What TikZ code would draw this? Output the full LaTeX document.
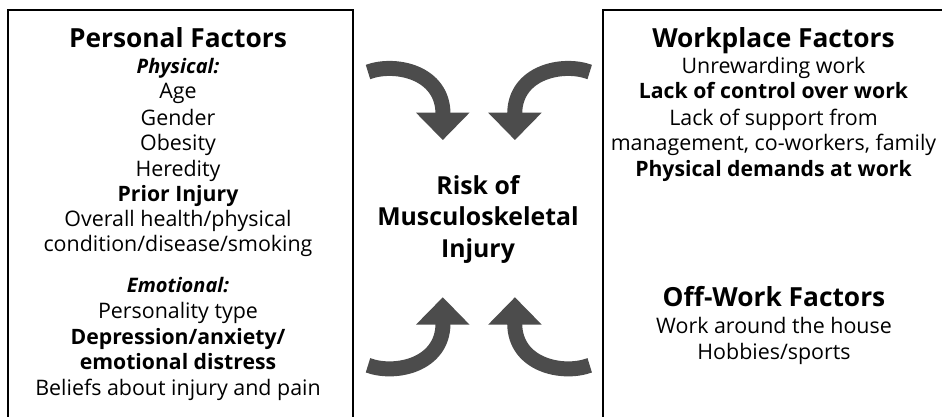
\documentclass[tikz,border=0pt]{standalone}
\usepackage{fontspec}
\setmainfont{Open Sans}
\begin{document}
\begin{tikzpicture}[x=1pt,y=-1pt,
  txt/.style={anchor=base,inner sep=0pt,font=\fontsize{21.4}{24}\selectfont},
  txtb/.style={txt,font=\fontsize{21.2}{24}\selectfont\bfseries},
  txti/.style={txt,font=\fontsize{20}{24}\selectfont\bfseries\itshape},
  head/.style={anchor=base,inner sep=0pt,font=\fontsize{26.3}{30}\selectfont\bfseries},
  mid/.style={anchor=base,inner sep=0pt,font=\fontsize{24.8}{30}\selectfont\bfseries},
  frame/.style={line width=2pt,black}]
\useasboundingbox (0,0) rectangle (942,417);
% frames
\draw[frame] (8,417) -- (8,10) -- (353,10) -- (353,417);
\draw[frame] (603,417) -- (603,10) -- (942,10);
% curved arrows
\newcommand\mybentarrow{%
  \draw[black!70,line width=15pt] (368,72) .. controls (395,62) and (443,72) .. (443,114);
  \fill[black!70] (416,112.7) -- (469.5,112.7) -- (442.8,140) -- cycle;}
\begin{scope}\mybentarrow\end{scope}
\begin{scope}[shift={(957.7,0)},xscale=-1]\mybentarrow\end{scope}
\begin{scope}[shift={(0,437.3)},yscale=-1]\mybentarrow\end{scope}
\begin{scope}[shift={(957.7,437.3)},xscale=-1,yscale=-1]\mybentarrow\end{scope}
% left block
\node[head] (ph) at (178,47.7) {Personal Factors};
\node[txti] (l1) at (178,73.3) {Physical:};
\node[txt] (l2) at (178,99) {Age};
\node[txt] (l3) at (178,125) {Gender};
\node[txt] (l4) at (178,150) {Obesity};
\node[txt] (l5) at (178,176) {Heredity};
\node[txtb] (l6) at (178,201.7) {Prior Injury};
\node[txt] (l7) at (178,226.5) {Overall health/physical};
\node[txt] (l8) at (178,251.7) {condition/disease/smoking};
\node[txti] (l9) at (178,292.7) {Emotional:};
\node[txt] (l10) at (178,318.5) {Personality type};
\node[txtb] (l11) at (178,344) {Depression/anxiety/};
\node[txtb] (l12) at (178,369.5) {emotional distress};
\node[txt] (l13) at (178,395.3) {Beliefs about injury and pain};
% centre
\node[mid] (c1) at (478,194.5) {Risk of};
\node[mid] (c2) at (478,225.5) {Musculoskeletal};
\node[mid] (c3) at (478,257) {Injury};
% right block
\node[head] (wh) at (773.5,47.7) {Workplace Factors};
\node[txt] (r1) at (773.5,74) {Unrewarding work};
\node[txtb] (r2) at (773.5,99) {Lack of control over work};
\node[txt] (r3) at (773.5,125) {Lack of support from};
\node[txt] (r4) at (773.5,150) {management, co-workers, family};
\node[txtb] (r5) at (773.5,176) {Physical demands at work};
\node[head] (oh) at (774,306.7) {Off-Work Factors};
\node[txt] (o1) at (774,333.3) {Work around the house};
\node[txt] (o2) at (774,359.5) {Hobbies/sports};
\end{tikzpicture}
\end{document}
